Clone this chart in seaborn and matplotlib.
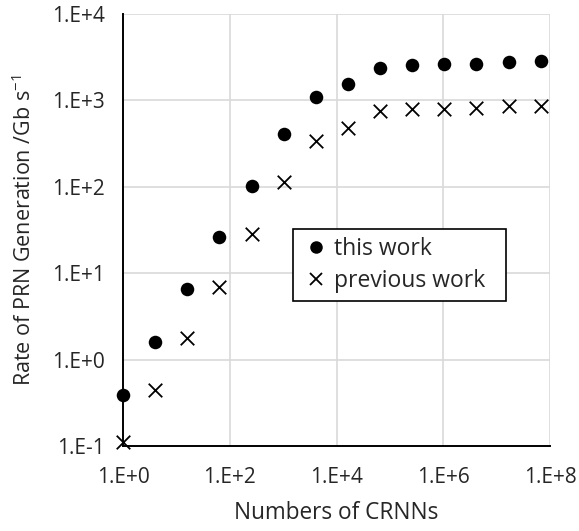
import matplotlib
matplotlib.use("Agg")
import matplotlib.pyplot as plt
import matplotlib.ticker as mticker
from matplotlib.lines import Line2D
import seaborn as sns
import pandas as pd

crnns = [1, 4, 16, 64, 256, 1024, 4096, 16384, 65536, 262144, 1048576,
         4194304, 16777216, 67108864]
this_work = [0.39, 1.6, 6.5, 26, 103, 410, 1100, 1530, 2400, 2550, 2640,
             2640, 2800, 2820]
previous_work = [0.112, 0.45, 1.8, 7.0, 28.5, 113, 340, 475, 755, 790, 800,
                 813, 860, 855]
series_names = ["this work", "previous work"]
x_ticks = [1e0, 1e2, 1e4, 1e6, 1e8]
x_tick_labels = ["1.E+0", "1.E+2", "1.E+4", "1.E+6", "1.E+8"]
y_ticks = [1e-1, 1e0, 1e1, 1e2, 1e3, 1e4]
y_tick_labels = ["1.E-1", "1.E+0", "1.E+1", "1.E+2", "1.E+3", "1.E+4"]

df_this = pd.DataFrame({"x": crnns, "y": this_work})
df_prev = pd.DataFrame({"x": crnns, "y": previous_work})

sns.set_style("white")
plt.rcParams["font.family"] = ["Open Sans", "DejaVu Sans"]
plt.rcParams["mathtext.fontset"] = "custom"
plt.rcParams["mathtext.rm"] = "Open Sans"
plt.rcParams["mathtext.it"] = "Open Sans"
plt.rcParams["mathtext.default"] = "regular"

TXT = "#262626"

fig = plt.figure(figsize=(5.79, 5.31), dpi=100)
ax = fig.add_axes([123 / 579, 1 - 446 / 531, 427 / 579, 432 / 531])

sns.scatterplot(data=df_this, x="x", y="y", marker="o", color="black",
                s=95, linewidth=0, ax=ax, legend=False, clip_on=False, zorder=3)
sns.scatterplot(data=df_prev, x="x", y="y", marker="x", color="black",
                s=95, linewidth=1.3, ax=ax, legend=False, clip_on=False, zorder=3)

ax.set_xscale("log")
ax.set_yscale("log")
ax.set_xlim(1, 1e8)
ax.set_ylim(0.1, 1e4)
ax.set_xticks(x_ticks)
ax.set_xticklabels(x_tick_labels)
ax.set_yticks(y_ticks)
ax.set_yticklabels(y_tick_labels)
ax.xaxis.set_minor_locator(mticker.NullLocator())
ax.yaxis.set_minor_locator(mticker.NullLocator())
ax.tick_params(axis="both", length=0, labelsize=15, colors=TXT)
ax.tick_params(axis="x", pad=15)
ax.tick_params(axis="y", pad=13)

ax.grid(True, color="#d9d9d9", linewidth=1.2, zorder=0)
ax.set_axisbelow(True)
for side in ["top", "right"]:
    ax.spines[side].set_visible(False)
for side in ["left", "bottom"]:
    ax.spines[side].set_color("black")
    ax.spines[side].set_linewidth(1.4)

ax.set_xlabel("Numbers of CRNNs", fontsize=16.3, color=TXT)
ax.set_ylabel("Rate of PRN Generation /Gb s$^{-1}$", fontsize=15.5, color=TXT)
ax.xaxis.set_label_coords(0.5, (446 - 513) / 432, transform=ax.transAxes)
ax.yaxis.set_label_coords((24 - 123) / 427, 0.5, transform=ax.transAxes)
ax.xaxis.label.set_va("center")
ax.yaxis.label.set_va("center")

handles = [
    Line2D([], [], linestyle="none", marker="o", color="black", markersize=8),
    Line2D([], [], linestyle="none", marker="x", color="black", markersize=9, markeredgewidth=1.3),
]
x0 = (293 - 123) / 427
x1 = (506 - 123) / 427
y_top = (446 - 229) / 432
y_bot = (446 - 301) / 432
leg = ax.legend(handles, series_names, loc="upper left", mode="expand",
                bbox_to_anchor=(x0, y_bot, x1 - x0, y_top - y_bot),
                fontsize=16.5, frameon=True, fancybox=False, edgecolor="black",
                handlelength=1.3, handletextpad=0.15, borderpad=0.35,
                borderaxespad=0, labelspacing=0.35)
for t in leg.get_texts():
    t.set_color(TXT)
leg.get_frame().set_linewidth(1.2)
leg.get_frame().set_facecolor("white")
leg.get_frame().set_alpha(1)

fig.savefig("out.png", dpi=100)
